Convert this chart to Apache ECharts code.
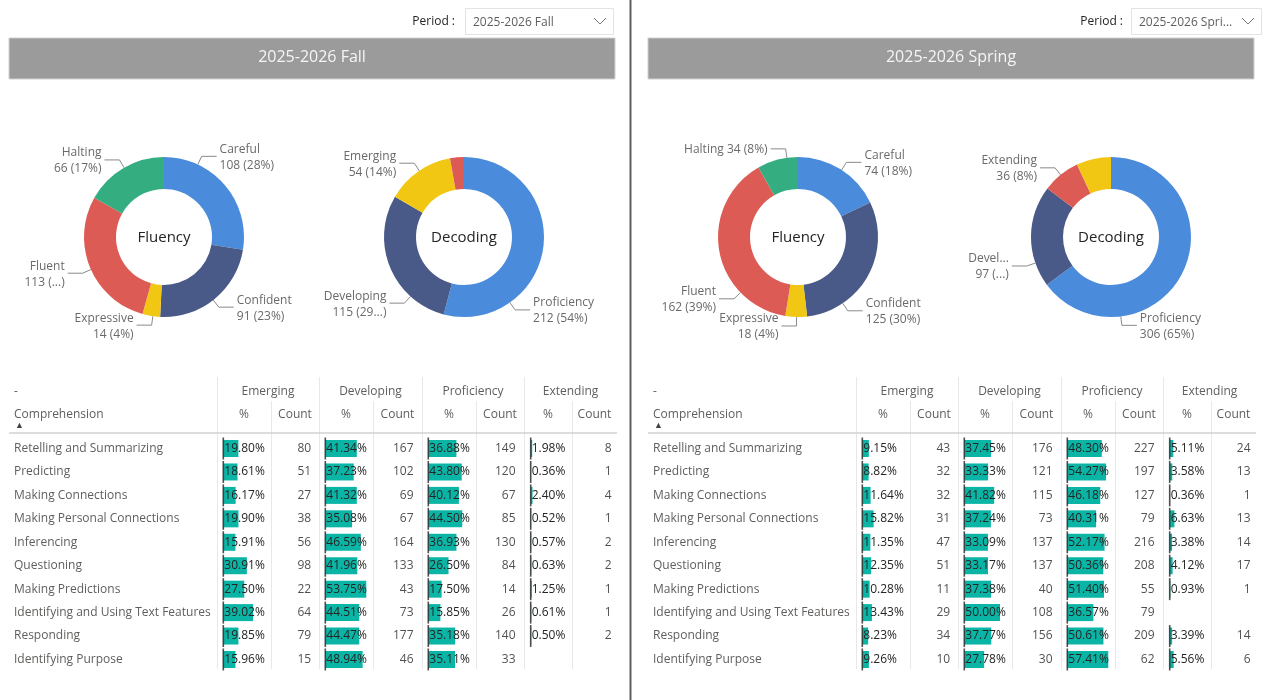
<!DOCTYPE html>
<html><head><meta charset="utf-8">
<script src="https://cdn.jsdelivr.net/npm/echarts@6/dist/echarts.min.js"></script>
<style>html,body{margin:0;padding:0;background:#fff}#c{width:1280px;height:700px}</style>
</head><body><div id="c"></div>
<script>
// ---------------- DATA ----------------
const categories = ['Retelling and Summarizing','Predicting','Making Connections','Making Personal Connections','Inferencing','Questioning','Making Predictions','Identifying and Using Text Features','Responding','Identifying Purpose'];
const levels = ['Emerging','Developing','Proficiency','Extending'];
const subHeaders = ['%','Count'];

const fallEmergingPct    = [19.80,18.61,16.17,19.90,15.91,30.91,27.50,39.02,19.85,15.96];
const fallEmergingCount  = [80,51,27,38,56,98,22,64,79,15];
const fallDevelopingPct  = [41.34,37.23,41.32,35.08,46.59,41.96,53.75,44.51,44.47,48.94];
const fallDevelopingCount= [167,102,69,67,164,133,43,73,177,46];
const fallProficiencyPct = [36.88,43.80,40.12,44.50,36.93,26.50,17.50,15.85,35.18,35.11];
const fallProficiencyCount=[149,120,67,85,130,84,14,26,140,33];
const fallExtendingPct   = [1.98,0.36,2.40,0.52,0.57,0.63,1.25,0.61,0.50,null];
const fallExtendingCount = [8,1,4,1,2,2,1,1,2,null];

const springEmergingPct    = [9.15,8.82,11.64,15.82,11.35,12.35,10.28,13.43,8.23,9.26];
const springEmergingCount  = [43,32,32,31,47,51,11,29,34,10];
const springDevelopingPct  = [37.45,33.33,41.82,37.24,33.09,33.17,37.38,50.00,37.77,27.78];
const springDevelopingCount= [176,121,115,73,137,137,40,108,156,30];
const springProficiencyPct = [48.30,54.27,46.18,40.31,52.17,50.36,51.40,36.57,50.61,57.41];
const springProficiencyCount=[227,197,127,79,216,208,55,79,209,62];
const springExtendingPct   = [5.11,3.58,0.36,6.63,3.38,4.12,0.93,null,3.39,5.56];
const springExtendingCount = [24,13,1,13,14,17,1,null,14,6];

const fluencyNames = ['Careful','Confident','Expressive','Fluent','Halting'];
const fallFluencyValues = [108,91,14,113,66];
const springFluencyValues = [74,125,18,162,34];

const fallDecodingNames = ['Proficiency','Developing','Emerging','Extending'];
const fallDecodingValues = [212,115,54,11];
const springDecodingNames = ['Proficiency','Developing','Extending','Emerging'];
const springDecodingValues = [306,97,36,33];

// truncated / hidden pie labels as shown in the report
const fallFluencyLabelOverrides = {Fluent:'Fluent\n113 (...)'};
const springFluencyLabelOverrides = {Halting:'Halting 34 (8%)'};
const fallDecodingLabelOverrides = {Developing:'Developing\n115 (29...)', Extending:null};
const springDecodingLabelOverrides = {Developing:'Devel...\n97 (...)', Emerging:null};

const periods = ['2025-2026 Fall','2025-2026 Spring'];
const periodDropdownText = ['2025-2026 Fall','2025-2026 Spri...'];

// ---------------- STYLE / LAYOUT ----------------
const FONT = "'Open Sans', 'Segoe UI', sans-serif";
const sliceColors = {Careful:'#4A8BDB',Confident:'#4A5A88',Expressive:'#F2C714',Fluent:'#DD5B55',Halting:'#34AE80',
  Proficiency:'#4A8BDB',Developing:'#4A5A88',Emerging:'#F2C714',Extending:'#DD5B55'};
// direction (degrees clockwise from 12 o'clock) where the report anchors each donut label
const fallFluencyLabelDir = {Careful:25, Confident:142, Expressive:188, Fluent:246, Halting:330};
const fallDecodingLabelDir = {Proficiency:145, Developing:222, Emerging:326};
const springFluencyLabelDir = {Careful:33, Confident:146, Expressive:181, Fluent:226, Halting:352};
const springDecodingLabelDir = {Proficiency:173, Developing:251, Extending:321};

const TEXT_GRAY = '#605E5C', TEXT_DARK = '#252423';
const TY = 2; // text baseline nudge
const TABLE_TOP = 436.8, ROW_H = 23.44, NROWS = categories.length;
const AXIS_X = [223.3, 325.3, 428.3, 530.7];
const COUNT_R = [311.7, 414, 516, 612];
const LEVEL_SEP = [217, 319, 422, 524];
const SUB_SEP = [271, 373, 476, 572];
const TABLE_L = 9, TABLE_R = 617, LABEL_X = 14;
const BAR_SPAN = 41;
const R_IN = 48, R_OUT = 80;

const grids=[], xAxes=[], yAxes=[], series=[], graphics=[];

function txt(x,y,text,opt){
  opt = opt||{};
  graphics.push({type:'text', x, y:y+TY, silent:true, z:10, style:{text, fill:opt.color||TEXT_GRAY,
    fontSize:opt.size||12, fontFamily:FONT, fontWeight:opt.weight||'normal',
    align:opt.align||'left', verticalAlign:'middle', textAlign:opt.align||'left', textVerticalAlign:'middle'}});
}
function line(x1,y1,x2,y2,color,w){
  graphics.push({type:'line', silent:true, z:5, shape:{x1,y1,x2,y2}, style:{stroke:color, lineWidth:w||1}});
}

function addPie(cx, cy, names, values, overrides, dirs, centerText){
  series.push({type:'pie', center:[cx,cy], radius:[R_IN,R_OUT], startAngle:90, clockwise:true, silent:true,
    avoidLabelOverlap:false,
    data: names.map((n,k)=>{
      const d = {name:n, value:values[k], itemStyle:{color:sliceColors[n]}};
      if (n in overrides){
        if (overrides[n]===null) { d.label={show:false}; d.labelLine={show:false}; }
        else d.label={formatter:overrides[n]};
      }
      return d;
    }),
    label:{show:true, formatter:p=>p.name+'\n'+p.value+' ('+Math.round(p.percent)+'%)',
      color:'#6A6A6A', fontSize:12, fontFamily:FONT, lineHeight:16},
    labelLine:{show:true, length:8, length2:14, lineStyle:{color:'#8A8A8A', width:1}},
    labelLayout: p => {
      const a = dirs[names[p.dataIndex]];
      if (a == null) return {};
      const t = a*Math.PI/180, sx = Math.sin(t), sy = -Math.cos(t);
      const p0 = [cx+R_OUT*sx, cy+R_OUT*sy];
      const p1 = [cx+(R_OUT+9)*sx, cy+(R_OUT+9)*sy];
      const dir = sx >= 0 ? 1 : -1;
      const p2 = [p1[0]+dir*15, p1[1]];
      return {x:p2[0]+dir*3, y:p2[1]+1, align:dir>0?'left':'right', verticalAlign:'middle',
        labelLinePoints:[p0,p1,p2]};
    }
  });
  txt(cx, cy-1, centerText, {align:'center', size:15, color:TEXT_DARK});
}

function buildPanel(dx, pct, cnt){
  const panelMax = Math.max(...pct.flat().filter(v=>v!=null));
  levels.forEach((lv,i)=>{
    const gi = grids.length;
    const left = AXIS_X[i]+dx, width = COUNT_R[i]-AXIS_X[i];
    const xmax = panelMax*width/BAR_SPAN;
    grids.push({left, width, top:TABLE_TOP, height:ROW_H*NROWS});
    xAxes.push({gridIndex:gi, type:'value', min:0, max:xmax, show:false});
    yAxes.push({gridIndex:gi, type:'category', data:categories, inverse:true, show:i===0,
      axisLine:{show:false}, axisTick:{show:false}, splitLine:{show:false},
      axisLabel:{show:i===0, align:'left', margin:left-(LABEL_X+dx), color:TEXT_GRAY, fontSize:12, fontFamily:FONT}});
    series.push({type:'bar', xAxisIndex:gi, yAxisIndex:gi, data:pct[i], barWidth:17, silent:true,
      itemStyle:{color:'#0BB5A6'},
      label:{show:true, position:'insideLeft', distance:1, formatter:p=>p.value.toFixed(2)+'%',
        color:TEXT_DARK, fontSize:12, fontFamily:FONT}});
    series.push({type:'scatter', xAxisIndex:gi, yAxisIndex:gi, silent:true, z:4,
      data:pct[i].map((v,k)=>v==null?null:[0,categories[k]]).filter(Boolean),
      symbol:'rect', symbolSize:[1.6,22], itemStyle:{color:TEXT_DARK}});
    series.push({type:'scatter', xAxisIndex:gi, yAxisIndex:gi, silent:true, z:4,
      data:cnt[i].map((c,k)=>c==null?null:[xmax,categories[k],c]).filter(Boolean),
      symbolSize:1, itemStyle:{color:'transparent'},
      label:{show:true, position:'left', distance:0, formatter:p=>String(p.value[2]),
        color:TEXT_DARK, fontSize:12, fontFamily:FONT}});
    // headers
    const sepR = i<3 ? LEVEL_SEP[i+1] : TABLE_R;
    txt((LEVEL_SEP[i]+sepR)/2+dx, 390, lv, {align:'center'});
    txt((LEVEL_SEP[i]+SUB_SEP[i])/2+dx, 413, subHeaders[0], {align:'center'});
    txt((SUB_SEP[i]+sepR)/2+dx, 413, subHeaders[1], {align:'center'});
    line(LEVEL_SEP[i]+dx+0.5, 377, LEVEL_SEP[i]+dx+0.5, 669, '#E8E8E8', 1);
    line(SUB_SEP[i]+dx+0.5, 401, SUB_SEP[i]+dx+0.5, 669, '#E8E8E8', 1);
  });
  txt(LABEL_X+dx, 390, '-', {});
  txt(LABEL_X+dx, 413, 'Comprehension', {});
  txt(LABEL_X+dx+1, 423, '▲', {size:9, color:'#444'});
  line(TABLE_L+dx, 433, TABLE_R+dx, 433, '#D2D2D2', 1.5);
}

function header(dx, title, periodLabelRight, boxL, boxR, ddText){
  txt(periodLabelRight, 20, 'Period :', {align:'right', color:TEXT_DARK});
  graphics.push({type:'rect', silent:true, shape:{x:boxL+0.5, y:8.5, width:boxR-boxL, height:26}, style:{fill:'#fff', stroke:'#E3E3E3', lineWidth:1}});
  txt(boxL+8, 20.5, ddText, {color:TEXT_GRAY});
  graphics.push({type:'polyline', silent:true, shape:{points:[[boxR-19,18],[boxR-13,24],[boxR-7,18]]}, style:{stroke:'#777', lineWidth:1, fill:null}});
  graphics.push({type:'rect', silent:true, shape:{x:9+dx, y:38, width:606, height:41}, style:{fill:'#9B9B9B', stroke:'#D0D0D0', lineWidth:1}});
  txt(312+dx, 55, title, {align:'center', size:16, color:'#F5F5F5'});
}

// Left panel
header(0, periods[0], 455, 465, 613, periodDropdownText[0]);
addPie(164, 237, fluencyNames, fallFluencyValues, fallFluencyLabelOverrides, fallFluencyLabelDir, 'Fluency');
addPie(464, 237, fallDecodingNames, fallDecodingValues, fallDecodingLabelOverrides, fallDecodingLabelDir, 'Decoding');
buildPanel(0,
  [fallEmergingPct, fallDevelopingPct, fallProficiencyPct, fallExtendingPct],
  [fallEmergingCount, fallDevelopingCount, fallProficiencyCount, fallExtendingCount]);

// Right panel
header(639, periods[1], 1123, 1131, 1261, periodDropdownText[1]);
addPie(798, 237, fluencyNames, springFluencyValues, springFluencyLabelOverrides, springFluencyLabelDir, 'Fluency');
addPie(1111, 237, springDecodingNames, springDecodingValues, springDecodingLabelOverrides, springDecodingLabelDir, 'Decoding');
buildPanel(639,
  [springEmergingPct, springDevelopingPct, springProficiencyPct, springExtendingPct],
  [springEmergingCount, springDevelopingCount, springProficiencyCount, springExtendingCount]);

// divider between the two pages
line(630.5, 0, 630.5, 700, '#5E5E5E', 2);

const chart = echarts.init(document.getElementById('c'), null, {renderer:'canvas'});
chart.setOption({
  backgroundColor:'#ffffff', animation:false,
  grid:grids, xAxis:xAxes, yAxis:yAxes, series, graphic:graphics
});
</script></body></html>
